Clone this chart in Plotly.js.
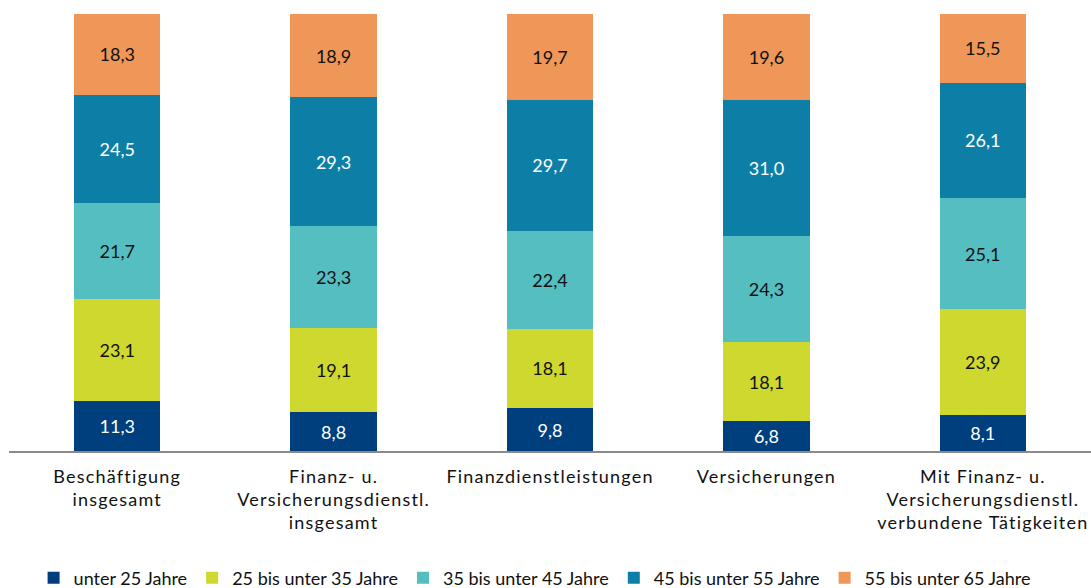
<!DOCTYPE html>
<html>
<head>
<meta charset="utf-8">
<script src="https://cdn.plot.ly/plotly-3.0.1.min.js"></script>
<style>
html,body{margin:0;padding:0;background:#fff;}
#chart{width:1091px;height:588px;}
#chart .xtick text{letter-spacing:1.2px;}
</style>
</head>
<body>
<div id="chart"></div>
<script>
const categories = [
  "Beschäftigung<br>insgesamt",
  "Finanz- u.<br>Versicherungsdienstl.<br>insgesamt",
  "Finanzdienstleistungen",
  "Versicherungen",
  "Mit Finanz- u.<br>Versicherungsdienstl.<br>verbundene Tätigkeiten"
];
const seriesNames = ["unter 25 Jahre", "25 bis unter 35 Jahre", "35 bis unter 45 Jahre", "45 bis unter 55 Jahre", "55 bis unter 65 Jahre"];
const under25 = [11.3, 8.8, 9.8, 6.8, 8.1];
const age25to35 = [23.1, 19.1, 18.1, 18.1, 23.9];
const age35to45 = [21.7, 23.3, 22.4, 24.3, 25.1];
const age45to55 = [24.5, 29.3, 29.7, 31.0, 26.1];
const age55to65 = [18.3, 18.9, 19.7, 19.6, 15.5];
const seriesValues = [under25, age25to35, age35to45, age45to55, age55to65];
const colors = ["#003F7E", "#CED82F", "#55BEC1", "#0D7FA7", "#EF9758"];
const textColors = ["#ffffff", "#111111", "#111111", "#ffffff", "#111111"];
const FONT = "Lato, 'Open Sans', sans-serif";

const traces = seriesValues.map((vals, i) => ({
  type: "bar",
  name: seriesNames[i],
  x: categories,
  y: vals,
  text: vals.map(v => v.toFixed(1).replace(".", ",")),
  textposition: "inside",
  insidetextanchor: "middle",
  textangle: 0,
  textfont: {family: FONT, size: 18, color: textColors[i]},
  marker: {color: colors[i], line: {width: 0}},
  hoverinfo: "skip"
}));

const layout = {
  width: 1091, height: 588,
  margin: {l: 9, r: 0, t: 14, b: 137},
  barmode: "stack",
  barnorm: "percent",
  bargap: 0.6,
  paper_bgcolor: "#fff",
  plot_bgcolor: "#fff",
  font: {family: FONT, size: 18, color: "#111111"},
  xaxis: {
    showline: true, linecolor: "#8a8a8a", linewidth: 2,
    ticks: "", showgrid: false, zeroline: false,
    tickfont: {family: FONT, size: 18, color: "#111111"},
    ticklabelstandoff: 8
  },
  yaxis: {visible: false, range: [0, 100], fixedrange: true},
  showlegend: true,
  legend: {
    orientation: "h", traceorder: "normal",
    x: 0.49, xanchor: "center", xref: "container",
    y: 0.017, yanchor: "middle", yref: "container",
    font: {family: FONT, size: 18, color: "#111111"},
    itemwidth: 30, tracegroupgap: 0
  }
};

Plotly.newPlot("chart", traces, layout, {displayModeBar: false, staticPlot: true});
</script>
</body>
</html>
